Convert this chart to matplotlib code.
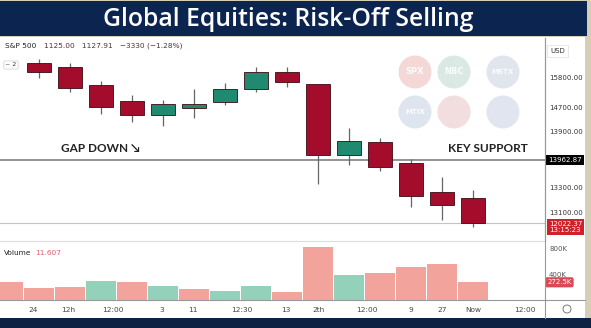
import matplotlib
matplotlib.use("Agg")
import matplotlib.pyplot as plt
from matplotlib.patches import Rectangle, Ellipse
import numpy as np

W, H = 591, 328

# candles (index, open, high, low, close)
opens  = [16094, 16014, 15660, 15346, 15060, 15194, 15314, 15586, 15914, 15680, 14260, 14520, 14100, 13526, 13406]
highs  = [16180, 16100, 15740, 15460, 15360, 15580, 15700, 16026, 16014, 15680, 14800, 14600, 14180, 13826, 13560]
lows   = [15800, 15520, 15080, 14920, 14840, 15006, 15260, 15526, 15614, 13680, 14060, 13940, 13220, 12960, 12820]
closes = [15914, 15606, 15214, 15060, 15280, 15286, 15580, 15926, 15714, 14260, 14546, 14020, 13440, 13260, 12906]

# volume in K (first bar belongs to the hidden candle at the left edge)
vol_idx = list(range(-1, 15))
volumes = [282, 185, 200, 297, 273, 211, 169, 143, 220, 128, 812, 385, 411, 513, 554, 272.5]
vol_up  = [0, 0, 0, 1, 0, 1, 0, 1, 1, 0, 0, 1, 0, 0, 0, 0]

key_support = 14160
last_price = 12900

price_ticks = [15800, 15220, 14740, 13600, 13100]
price_labels = ["15800.00", "14700.00", "13900.00", "13300.00", "13100.00"]
vol_ticks = [800, 400]
vol_labels = ["800K", "400K"]
x_ticks = [-0.19, 0.94, 2.39, 3.97, 4.97, 6.55, 7.97, 9.03, 10.58, 12, 13, 14, 15.68]
x_labels = ["24", "12h", "12:00", "3", "11", "12:30", "13", "2th", "12:00", "9", "27", "Now", "12:00"]

RED = "#a30d2b"
GREEN = "#1f8a6f"
VRED = "#f2a49c"
VGREEN = "#93d1bb"
NAVY = "#0c2550"


def fx(x):
    return x / W


def fy(y):
    return 1 - y / H


fig = plt.figure(figsize=(W / 100, H / 100), dpi=100)
fig.patch.set_facecolor("#d6cfb8")

# background panels
fig.patches.append(Rectangle((0, fy(318)), fx(585), fy(37) - fy(318), transform=fig.transFigure,
                             facecolor="white", edgecolor="none", zorder=-5))
fig.patches.append(Rectangle((0, fy(36)), fx(587), fy(1) - fy(36), transform=fig.transFigure,
                             facecolor=NAVY, edgecolor="none", zorder=-5))
fig.patches.append(Rectangle((0, 0), 1, fy(318), transform=fig.transFigure,
                             facecolor="#0e2243", edgecolor="none", zorder=-5))
fig.text(fx(288), fy(19), "Global Equities: Risk-Off Selling", color="white", fontsize=17.8,
         fontweight="semibold", family="Open Sans", ha="center", va="center")

# faded watermark badges
badges = [(415, 72, "#e7a2a2", "SPX"), (454, 72, "#a9cbbd", "NBC"), (503, 72, "#b9c2d6", "MSTX"),
          (415, 112, "#b5c1d8", "MTIX"), (454, 112, "#e3b1b4", ""), (503, 112, "#b8c3da", "")]
for bx, by, bc, bt in badges:
    fig.patches.append(Ellipse((fx(bx), fy(by)), 33 / W, 33 / H, transform=fig.transFigure,
                               facecolor=bc, edgecolor="none", alpha=0.42, zorder=-4))
    if bt:
        fig.text(fx(bx), fy(by), bt, color="white", fontsize=6 if len(bt) < 4 else 5,
                 fontweight="bold", ha="center", va="center", alpha=0.9, zorder=-3)

# price panel
ax = fig.add_axes([0, fy(241), fx(545), fy(38) - fy(241)])
ax.set_facecolor("none")
x = np.arange(len(opens))
o = np.array(opens)
c = np.array(closes)
up = c >= o
cols = np.where(up, GREEN, RED)
ax.vlines(x, lows, highs, color="#666666", linewidth=0.9, zorder=2)
ax.bar(x, np.abs(c - o), bottom=np.minimum(o, c), width=0.8, color=cols,
       edgecolor="#3a0a12", linewidth=0.6, zorder=3)
ax.axhline(key_support, color="#808080", linewidth=1.2, zorder=1)
ax.axhline(last_price, color="#c4c4c4", linewidth=0.8, zorder=1)
ax.set_xlim(-1.258, 16.32)
ax.set_ylim(12540, 16600)
ax.yaxis.tick_right()
ax.set_yticks(price_ticks)
ax.set_yticklabels(price_labels)
ax.tick_params(axis="y", length=0, pad=3, labelsize=5, labelcolor="#333333")
ax.tick_params(axis="x", length=0, labelbottom=False)
for s in ["top", "left", "bottom"]:
    ax.spines[s].set_visible(False)
ax.spines["right"].set_color("#999999")
ax.spines["right"].set_linewidth(0.8)

ax.text(0.7, 14290, "GAP DOWN \u2198", fontsize=8.5, fontweight="bold", family="Lato",
        color="#222222", va="bottom", ha="left")
ax.text(15.77, 14290, "KEY SUPPORT", fontsize=8.5, fontweight="bold", family="Lato",
        color="#222222", va="bottom", ha="right")

# header legend
fig.text(fx(5), fy(46), "S&P 500", fontsize=5.3, color="#222222", va="center")
fig.text(fx(44), fy(46), "1125.00   1127.91   \u22123330 (\u22121.28%)", fontsize=5.3,
         color="#5a3030", va="center")
fig.text(fx(11), fy(65), "~ 2", fontsize=4.5, color="#333333", va="center", ha="center",
         bbox=dict(boxstyle="round,pad=0.25", facecolor="white", edgecolor="#cccccc", linewidth=0.5))

# right axis boxes
fig.text(fx(550), fy(51), "USD", fontsize=5, color="#333333", va="center",
         bbox=dict(boxstyle="square,pad=0.5", facecolor="white", edgecolor="#dddddd", linewidth=0.5))
ax.text(1.005, key_support, "13962.87", transform=ax.get_yaxis_transform(), fontsize=5,
        color="white", va="center", ha="left",
        bbox=dict(boxstyle="square,pad=0.35", facecolor="black", edgecolor="none"))
fig.text(fx(549), fy(227), "12022.37\n13:15:23", fontsize=5, color="white", va="center",
         linespacing=1.1,
         bbox=dict(boxstyle="square,pad=0.3", facecolor="#d0202c", edgecolor="none"))

# volume panel
av = fig.add_axes([0, fy(300), fx(545), fy(241) - fy(300)], sharex=ax)
av.set_facecolor("none")
vcols = [VGREEN if u else VRED for u in vol_up]
av.bar(vol_idx, volumes, width=0.94, color=vcols, edgecolor="none")
av.set_ylim(0, 908)
av.yaxis.tick_right()
av.set_yticks(vol_ticks)
av.set_yticklabels(vol_labels)
av.tick_params(axis="y", length=0, pad=3, labelsize=5, labelcolor="#555555")
av.set_xticks(x_ticks)
av.set_xticklabels(x_labels)
av.tick_params(axis="x", length=0, pad=5, labelsize=5.3, labelcolor="#444444")
for s in ["left", "right"]:
    av.spines[s].set_visible(False)
av.spines["top"].set_color("#dddddd")
av.spines["top"].set_linewidth(0.8)
av.spines["bottom"].set_color("#999999")
av.spines["bottom"].set_linewidth(0.8)
av.text(0.008, 0.8, "Volume", transform=av.transAxes, fontsize=5.3, color="#222222", va="center")
av.text(0.065, 0.8, "11.607", transform=av.transAxes, fontsize=5.3, color="#e06070", va="center")
av.text(1.004, volumes[-1], "272.5K", transform=av.get_yaxis_transform(), fontsize=5,
        color="white", va="center", ha="left",
        bbox=dict(boxstyle="round,pad=0.3", facecolor="#d84a55", edgecolor="none"))

# axis separators
fig.add_artist(plt.Line2D([fx(545), fx(545)], [fy(318), fy(38)], color="#999999", linewidth=0.8))
fig.add_artist(plt.Line2D([fx(545), fx(585)], [fy(300), fy(300)], color="#999999", linewidth=0.8))
fig.patches.append(Ellipse((fx(567), fy(309)), 8 / W, 8 / H, transform=fig.transFigure,
                           facecolor="white", edgecolor="#666666", linewidth=0.6))

fig.savefig("out.png", dpi=100, facecolor=fig.get_facecolor())
